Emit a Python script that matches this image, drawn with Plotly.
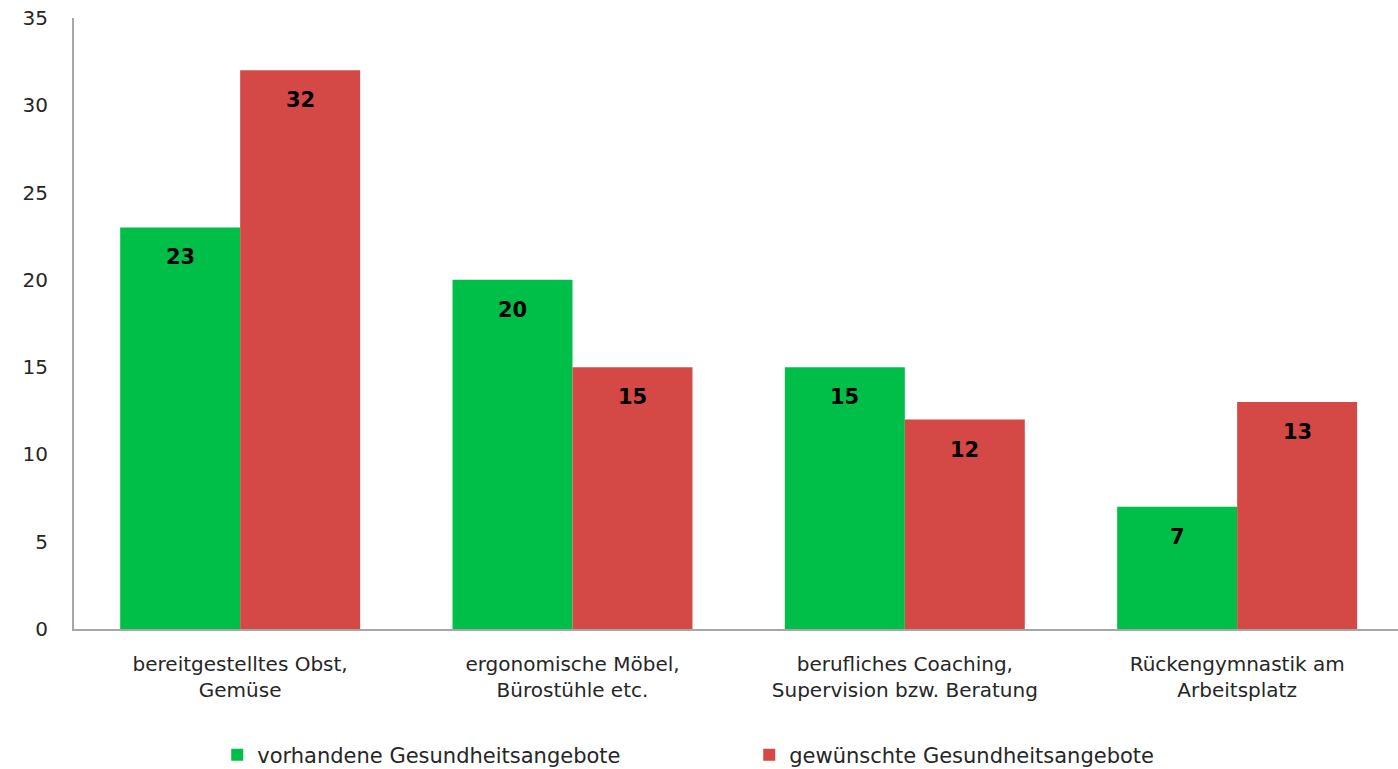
import plotly.graph_objects as go

categories = [
    "bereitgestelltes Obst,<br>Gemüse",
    "ergonomische Möbel,<br>Bürostühle etc.",
    "berufliches Coaching,<br>Supervision bzw. Beratung",
    "Rückengymnastik am<br>Arbeitsplatz",
]
vorhanden = [23, 20, 15, 7]
gewuenscht = [32, 15, 12, 13]

series_names = ["vorhandene Gesundheitsangebote", "gewünschte Gesundheitsangebote"]
colors = ["#00BF48", "#D44845"]

FONT = "DejaVu Sans, Verdana, sans-serif"

fig = go.Figure()
for name, vals, col in zip(series_names, [vorhanden, gewuenscht], colors):
    fig.add_trace(go.Bar(
        name=name, x=categories, y=vals, marker=dict(color=col, line=dict(width=0)),
    ))

# value labels just below each bar's top
for i, (a, b) in enumerate(zip(vorhanden, gewuenscht)):
    for off, v in ((-0.181, a), (0.181, b)):
        fig.add_annotation(
            x=i + off, y=v, xref="x", yref="y", text=f"<b>{v}</b>",
            showarrow=False, yshift=-30,
            font=dict(family=FONT, size=21, color="#000000"),
        )

fig.update_layout(
    width=1398, height=769,
    margin=dict(l=74, r=0, t=18, b=140, autoexpand=False),
    paper_bgcolor="white", plot_bgcolor="white",
    barmode="group", bargap=0.278, bargroupgap=0,
    font=dict(family=FONT, size=18, color="#262626"),
    xaxis=dict(
        type="category", range=[-0.5, 3.484],
        showline=True, linecolor="#A6A6A6", linewidth=2,
        ticks="", tickfont=dict(size=20, color="#262626"),
        ticklabelstandoff=16,
    ),
    yaxis=dict(
        range=[0, 35], dtick=5, showgrid=False, zeroline=False,
        showline=True, linecolor="#A6A6A6", linewidth=2,
        ticks="", tickfont=dict(size=20, color="#262626"),
        ticklabelstandoff=20,
    ),
    legend=dict(
        orientation="h", x=0.51, xanchor="center", y=-0.2062, yanchor="middle",
        font=dict(size=21, color="#262626"), traceorder="normal",
        itemwidth=30, entrywidth=487,
    ),
    showlegend=True,
)

fig.write_html("out.html")
